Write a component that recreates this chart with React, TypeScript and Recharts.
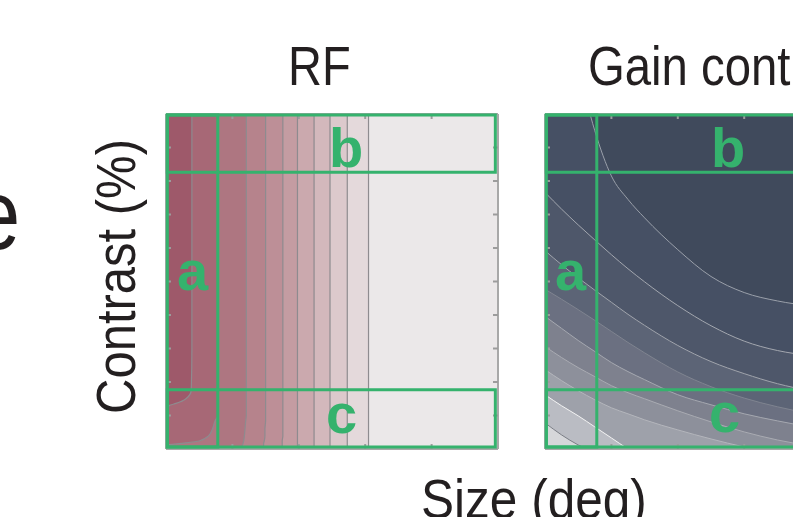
import { Area, CartesianGrid, ComposedChart, ReferenceArea, XAxis, YAxis } from 'recharts'

// ---- shared geometry of the two contour panels ----
const PLOT_W = 330
const PLOT_H = 333
const PLOT_TOP = 115
const PAD = 4
const INK = '#231f20'
const GREEN = '#35b26d'
const FRAME = '#a8a8a8'
const FONT = '"Liberation Sans", Arial, Helvetica, sans-serif'

const sizeTicks = [1, 2, 3, 4]
const contrastTicks = [1, 2, 3, 4, 5, 6, 7, 8, 9]

// ---- RF panel: contour edges x = f(contrast) ----
const rfContrast = [0, 0.1, 0.16, 0.24, 0.39, 0.6, 0.84, 1.0, 1.3, 1.36, 1.5, 1.75, 3, 6, 10]
const rfEdge1 = [-0.05, -0.05, -0.05, -0.05, -0.05, -0.05, -0.05, -0.05, 0.05, 0.15, 0.3, 0.38, 0.39, 0.39, 0.39]
const rfEdge2 = [-0.05, -0.05, 0.2, 0.5, 0.64, 0.7, 0.74, 0.78, 0.79, 0.79, 0.79, 0.79, 0.79, 0.79, 0.79]
const rfEdge3 = [1.14, 1.15, 1.16, 1.17, 1.18, 1.19, 1.2, 1.21, 1.21, 1.21, 1.21, 1.21, 1.21, 1.21, 1.21]
const rfEdge4 = [1.46, 1.47, 1.47, 1.48, 1.49, 1.49, 1.5, 1.5, 1.5, 1.5, 1.5, 1.5, 1.5, 1.5, 1.5]
const rfEdge5 = [1.74, 1.75, 1.75, 1.75, 1.76, 1.76, 1.76, 1.76, 1.76, 1.76, 1.76, 1.76, 1.76, 1.76, 1.76]
const rfEdge6 = [1.98, 1.98, 1.98, 1.98, 1.98, 1.98, 1.98, 1.98, 1.98, 1.98, 1.98, 1.98, 1.98, 1.98, 1.98]
const rfEdge7 = [2.23, 2.23, 2.23, 2.23, 2.23, 2.23, 2.23, 2.23, 2.23, 2.23, 2.23, 2.23, 2.23, 2.23, 2.23]
const rfEdge8 = [2.47, 2.47, 2.47, 2.47, 2.47, 2.47, 2.47, 2.47, 2.47, 2.47, 2.47, 2.47, 2.47, 2.47, 2.47]
const rfEdge9 = [2.73, 2.73, 2.73, 2.73, 2.73, 2.73, 2.73, 2.73, 2.73, 2.73, 2.73, 2.73, 2.73, 2.73, 2.73]
const rfEdge10 = [3.05, 3.05, 3.05, 3.05, 3.05, 3.05, 3.05, 3.05, 3.05, 3.05, 3.05, 3.05, 3.05, 3.05, 3.05]

// band colours, outermost (lightest) first
const rfBands = [
  { key: 'e10', fill: '#e4d9db' },
  { key: 'e9', fill: '#dcc9cc' },
  { key: 'e8', fill: '#d3b8bc' },
  { key: 'e7', fill: '#cba9ae' },
  { key: 'e6', fill: '#c49ca2' },
  { key: 'e5', fill: '#bd8f97' },
  { key: 'e4', fill: '#b6838c' },
  { key: 'e3', fill: '#ae7681' },
  { key: 'e2', fill: '#a76876' },
  { key: 'e1', fill: '#9e596a' },
]

const rfRows = rfContrast.map((c, i) => ({
  c,
  e1: rfEdge1[i],
  e2: rfEdge2[i],
  e3: rfEdge3[i],
  e4: rfEdge4[i],
  e5: rfEdge5[i],
  e6: rfEdge6[i],
  e7: rfEdge7[i],
  e8: rfEdge8[i],
  e9: rfEdge9[i],
  e10: rfEdge10[i],
}))

// ---- Gain control panel: contour levels contrast = f(size) ----
const gainSize = [0, 0.25, 0.5, 0.75, 1, 1.25, 1.5, 2, 2.5, 3, 3.5, 4, 4.5, 5]
const gainLevelA = [15.5, 13.4, 11.4, 9.5, 8.15, 7.45, 6.9, 5.95, 5.15, 4.67, 4.42, 4.27, 4.18, 4.14]
const gainLevelB = [7.66, 7.16, 6.69, 6.24, 5.8, 5.38, 4.99, 4.28, 3.68, 3.22, 2.94, 2.79, 2.73, 2.7]
const gainLevelC = [5.92, 5.5, 5.11, 4.74, 4.38, 4.02, 3.69, 3.09, 2.61, 2.25, 1.95, 1.74, 1.62, 1.56]
const gainLevelD = [4.77, 4.47, 4.16, 3.84, 3.51, 3.18, 2.87, 2.3, 1.86, 1.52, 1.26, 1.06, 0.92, 0.84]
const gainLevelE = [3.96, 3.6, 3.24, 2.91, 2.58, 2.31, 2.07, 1.62, 1.32, 1.05, 0.84, 0.66, 0.54, 0.45]
const gainLevelF = [3.06, 2.73, 2.43, 2.16, 1.89, 1.68, 1.5, 1.14, 0.81, 0.51, 0.27, 0.09, -0.06, -0.18]
const gainLevelG = [2.37, 2.04, 1.74, 1.47, 1.23, 1.05, 0.87, 0.57, 0.3, 0.06, -0.15, -0.33, -0.48, -0.6]
const gainLevelH = [1.62, 1.29, 0.99, 0.66, 0.33, 0.0, -0.3, -0.9, -1.5, -2.0, -2.4, -2.8, -3.1, -3.4]
const gainLevelI = [0.78, 0.42, 0.12, -0.12, -0.45, -0.75, -1.05, -1.6, -2.2, -2.7, -3.1, -3.5, -3.8, -4.1]

// fill below each level line, drawn from the top level downwards
const gainBands = [
  { key: 'A', fill: '#465064', stroke: '#9aa0aa' },
  { key: 'B', fill: '#4e576a', stroke: '#a3a7af' },
  { key: 'C', fill: '#5c6476', stroke: '#a0a4ac' },
  { key: 'D', fill: '#6b7081', stroke: '#7f8490' },
  { key: 'E', fill: '#7e818e', stroke: '#a5a8b0' },
  { key: 'F', fill: '#8d909b', stroke: '#a9abb2' },
  { key: 'G', fill: '#9ea1aa', stroke: '#b4b6bc' },
  { key: 'H', fill: '#babcc3', stroke: '#f4f4f4' },
  { key: 'I', fill: '#d6d7da', stroke: '#7b7e86' },
]

const gainRows = gainSize.map((s, i) => ({
  s,
  A: gainLevelA[i],
  B: gainLevelB[i],
  C: gainLevelC[i],
  D: gainLevelD[i],
  E: gainLevelE[i],
  F: gainLevelF[i],
  G: gainLevelG[i],
  H: gainLevelH[i],
  I: gainLevelI[i],
}))

// a / b / c selection boxes (size range, contrast range)
const boxA = { x1: 0.02, x2: 0.78, y1: 0.06, y2: 9.97 }
const boxB = { x1: 0.02, x2: 4.96, y1: 8.26, y2: 9.97 }
const boxC = { x1: 0.02, x2: 4.96, y1: 0.06, y2: 1.77 }
const boxes = [boxA, boxB, boxC]

const tickStyle = { stroke: '#9c9c9c', strokeWidth: 2 }
const axisStyle = { stroke: FRAME, strokeWidth: 2 }

// tick marks only, no tick text
const NoLabel = () => null

// four framing axes with short inward ticks; a zero-size axis is not drawn,
// so each one gets 1px and the chart margin gives that pixel back
function frameAxes(xKey?: string, yKey?: string, flipY = false) {
  return [
    <XAxis
      key="xb"
      type="number"
      dataKey={xKey}
      domain={[0, 5]}
      ticks={sizeTicks}
      allowDataOverflow
      height={1}
      mirror
      tick={NoLabel}
      tickSize={5}
      tickLine={tickStyle}
      axisLine={axisStyle}
    />,
    <XAxis
      key="xt"
      xAxisId="t"
      orientation="top"
      type="number"
      dataKey={xKey}
      domain={[0, 5]}
      ticks={sizeTicks}
      allowDataOverflow
      height={1}
      mirror
      tick={NoLabel}
      tickSize={5}
      tickLine={tickStyle}
      axisLine={axisStyle}
    />,
    <YAxis
      key="yl"
      type="number"
      dataKey={yKey}
      domain={[0, 10]}
      ticks={contrastTicks}
      reversed={flipY}
      allowDataOverflow
      width={1}
      mirror
      tick={NoLabel}
      tickSize={5}
      tickLine={tickStyle}
      axisLine={axisStyle}
    />,
    <YAxis
      key="yr"
      yAxisId="r"
      orientation="right"
      type="number"
      dataKey={yKey}
      domain={[0, 10]}
      ticks={contrastTicks}
      reversed={flipY}
      allowDataOverflow
      width={1}
      mirror
      tick={NoLabel}
      tickSize={5}
      tickLine={tickStyle}
      axisLine={axisStyle}
    />,
  ]
}

function boxAreas() {
  return boxes.map((b, i) => (
    <ReferenceArea
      key={`box${i}`}
      {...b}
      fill="none"
      stroke={GREEN}
      strokeWidth={3}
      // @ts-ignore zIndex exists on newer recharts builds
      zIndex={700}
    />
  ))
}

const margin = { top: PAD - 1, right: PAD - 1, bottom: PAD - 1, left: PAD - 1 }

function RfPanel() {
  return (
    <div style={{ position: 'absolute', left: 167 - PAD, top: PLOT_TOP - PAD }}>
      <ComposedChart
        width={PLOT_W + 2 * PAD}
        height={PLOT_H + 2 * PAD}
        data={rfRows}
        layout="vertical"
        margin={margin}
      >
        <CartesianGrid horizontal={false} vertical={false} fill="#ebe8e9" />
        {frameAxes(undefined, 'c', true)}
        {rfBands.map((b) => (
          <Area
            key={b.key}
            dataKey={b.key}
            type="monotone"
            fill={b.fill}
            fillOpacity={1}
            stroke="#8e8b8f"
            strokeWidth={1.2}
            dot={false}
            activeDot={false}
            isAnimationActive={false}
          />
        ))}
        {boxAreas()}
      </ComposedChart>
    </div>
  )
}

function GainPanel() {
  return (
    <div style={{ position: 'absolute', left: 546 - PAD, top: PLOT_TOP - PAD }}>
      <ComposedChart
        width={PLOT_W + 2 * PAD}
        height={PLOT_H + 2 * PAD}
        data={gainRows}
        margin={margin}
      >
        <CartesianGrid horizontal={false} vertical={false} fill="#404a5c" />
        {frameAxes('s', undefined)}
        {gainBands.map((b) => (
          <Area
            key={b.key}
            dataKey={b.key}
            type="monotone"
            fill={b.fill}
            fillOpacity={1}
            stroke={b.stroke}
            strokeWidth={1}
            dot={false}
            activeDot={false}
            isAnimationActive={false}
          />
        ))}
        {boxAreas()}
      </ComposedChart>
    </div>
  )
}

// panel letters and figure labels
const boxLetters = [
  { t: 'a', x: 177, y: 290 },
  { t: 'b', x: 329, y: 167 },
  { t: 'c', x: 326, y: 433 },
  { t: 'a', x: 555, y: 290 },
  { t: 'b', x: 711, y: 167 },
  { t: 'c', x: 709, y: 432 },
]

function Labels() {
  return (
    <svg
      width={793}
      height={517}
      style={{ position: 'absolute', left: 0, top: 0, pointerEvents: 'none' }}
      fontFamily={FONT}
    >
      <text transform="translate(-27,249) scale(0.85,1)" fontSize={100} fill={INK}>
        e
      </text>
      <text transform="translate(288,85) scale(0.84,1)" fontSize={56} fill={INK}>
        RF
      </text>
      <text transform="translate(588,85) scale(0.845,1)" fontSize={56} fill={INK}>
        Gain control
      </text>
      <text transform="translate(421,518) scale(0.885,1)" fontSize={56} fill={INK}>
        Size (deg)
      </text>
      <text transform="translate(135,414) rotate(-90) scale(0.875,1)" fontSize={56} fill={INK}>
        Contrast (%)
      </text>
      {boxLetters.map((l, i) => (
        <text key={i} x={l.x} y={l.y} fontSize={56} fontWeight="bold" fill={GREEN}>
          {l.t}
        </text>
      ))}
    </svg>
  )
}

export default function App() {
  return (
    <div
      style={{
        position: 'absolute',
        left: 0,
        top: 0,
        width: 793,
        height: 517,
        overflow: 'hidden',
        background: '#ffffff',
      }}
    >
      <RfPanel />
      <GainPanel />
      <Labels />
    </div>
  )
}
